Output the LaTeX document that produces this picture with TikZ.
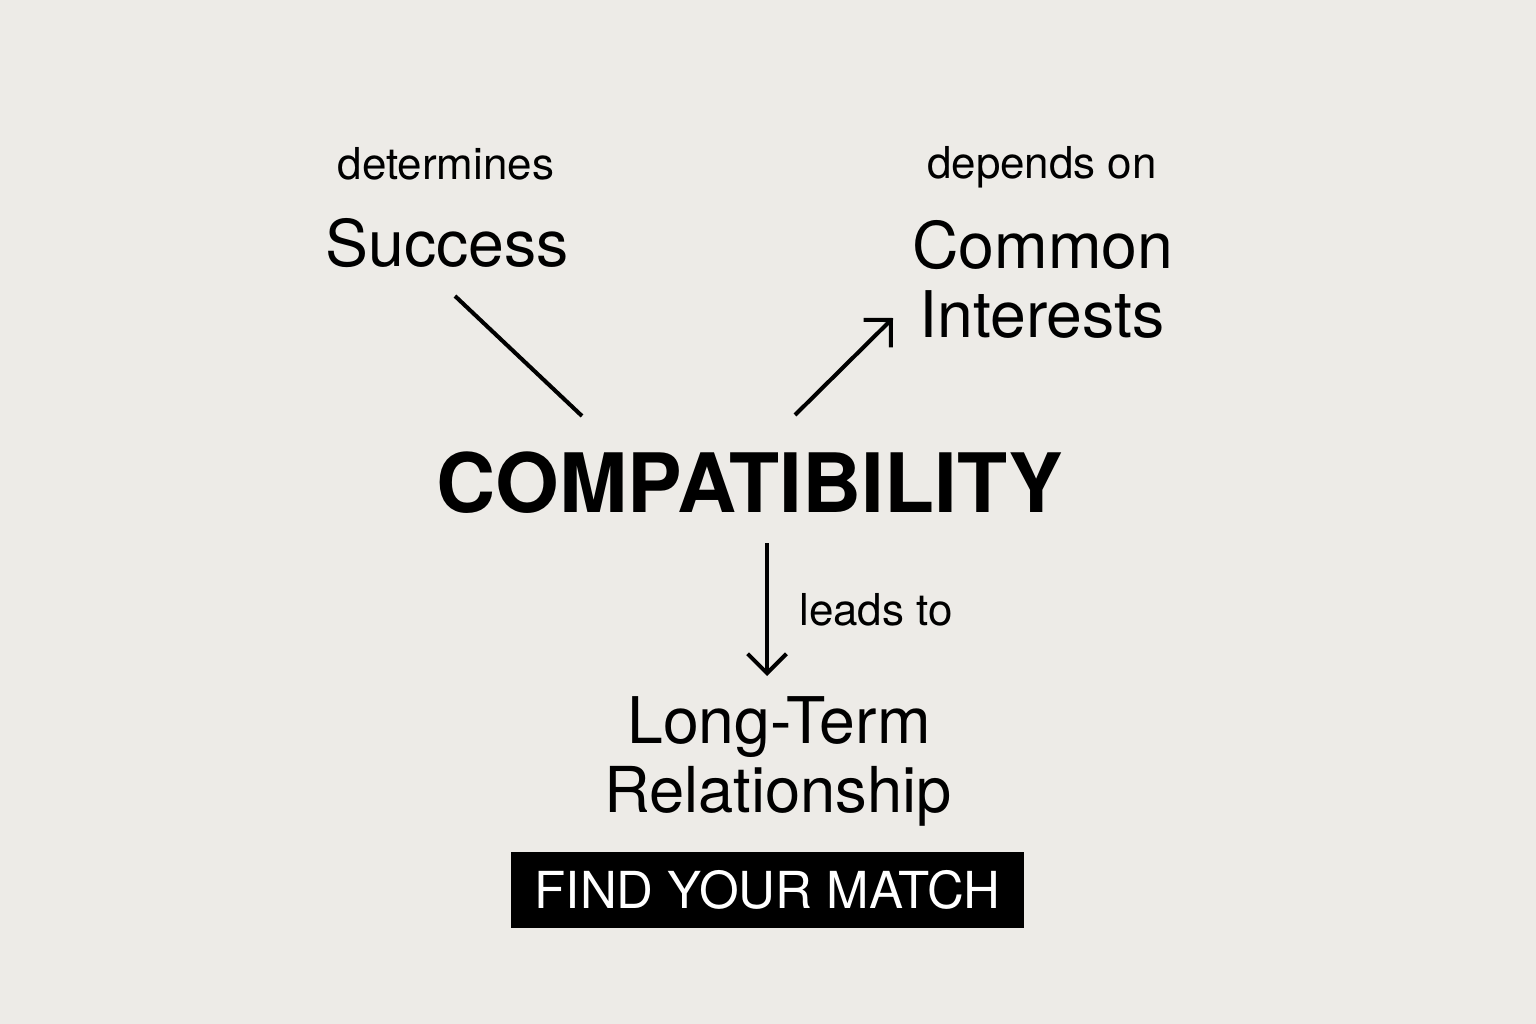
\documentclass[tikz,border=0pt]{standalone}
\usepackage{fontspec}
\setmainfont{TeX Gyre Heros}
\usetikzlibrary{arrows.meta}
\definecolor{paper}{HTML}{EDEBE7}

\tikzset{
  small/.style={font=\fontsize{12.5}{15}\selectfont, anchor=base, inner sep=0pt},
  mid/.style={font=\fontsize{18.3}{22}\selectfont, anchor=base, inner sep=0pt},
  big/.style={font=\fontsize{23.3}{28}\selectfont\bfseries, anchor=base, inner sep=0pt},
  link/.style={line width=1.15pt},
  tip/.style={link, -{Straight Barb[length=5.5pt,width=11pt]}},
}

\begin{document}
\begin{tikzpicture}[x=0.01cm, y=-0.01cm]

 \fill[paper] (0,0) rectangle (1536,1024);
 \useasboundingbox (0,0) rectangle (1536,1024);

 % top left
 \node (det) at (446,179) [small] {determines};
 \node (succ) at (447,266) [mid] {Success};

 % top right
 \node (dep) at (1042,178) [small] {depends on};
 \node (comm) at (1043,268) [mid] {Common};
 \node (inter) at (1042,337) [mid] {Interests};

 % centre
 \node (compat) at (750,512) [big] {COMPATIBILITY};

 % bottom
 \node (lead) at (876,625) [small] {leads to};
 \node (longt) at (779,743) [mid] {Long-Term};
 \node (rel) at (778,812) [mid, font=\fontsize{18}{22}\selectfont] {Relationship};
 \node (btn) at (767.5,890) [fill=black, text=white, inner sep=0pt,
   minimum width=5.13cm, minimum height=0.76cm,
   font=\fontsize{14.5}{17}\selectfont] {FIND YOUR MATCH};

 \coordinate (sa) at (455,296);
 \coordinate (sb) at (582,416);
 \coordinate (ca) at (795,415);
 \coordinate (cb) at (893,318);
 \coordinate (la) at (767,543);
 \coordinate (lb) at (767,676);

 \draw [link] (sa) -- (sb);
 \draw [tip] (ca) -- (cb);
 \draw [tip] (la) -- (lb);

\end{tikzpicture}
\end{document}
